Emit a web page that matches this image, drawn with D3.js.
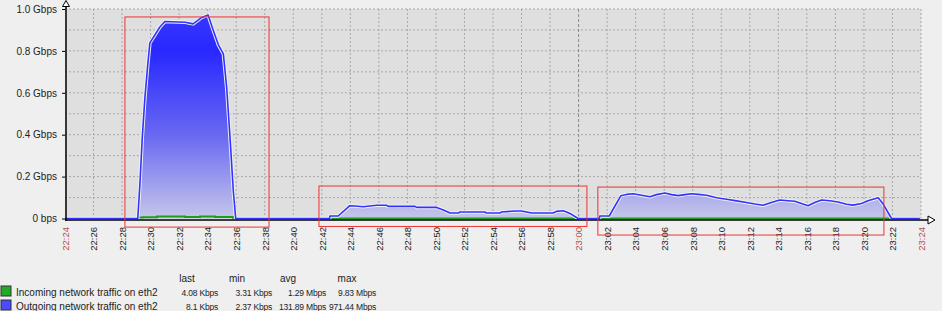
<!DOCTYPE html>
<html>
<head>
<meta charset="utf-8">
<script src="https://cdn.jsdelivr.net/npm/d3@7"></script>
<style>
    html, body { margin: 0; padding: 0; background: #efefef; }
    svg { display: block; font-family: "Liberation Sans", Arial, sans-serif; }
</style>
</head>
<body>
<div id="chart"></div>
<script>
// time window of the graph
const timeStart = "22:24:00", timeEnd = "23:24:00";

// outgoing traffic, Gbps
const outgoing = [
    ["22:24:00", 0.00001], ["22:29:06", 0.00001], ["22:29:15", 0.162], ["22:29:25", 0.386],
    ["22:29:36", 0.576], ["22:29:48", 0.733], ["22:29:57", 0.838], ["22:30:18", 0.876],
    ["22:30:39", 0.914], ["22:31:00", 0.94], ["22:32:25", 0.937], ["22:32:59", 0.929],
    ["22:33:35", 0.96], ["22:34:02", 0.971], ["22:34:23", 0.9], ["22:34:45", 0.829],
    ["22:35:06", 0.786], ["22:35:20", 0.624], ["22:35:34", 0.386], ["22:35:48", 0.129],
    ["22:35:58", 0.00001],
    ["22:42:33", 0.00001], ["22:42:34", 0.012], ["22:43:09", 0.012], ["22:43:58", 0.061],
    ["22:44:19", 0.06], ["22:44:54", 0.056], ["22:45:22", 0.06], ["22:45:51", 0.063],
    ["22:46:33", 0.063], ["22:46:39", 0.058], ["22:48:32", 0.058], ["22:48:39", 0.053],
    ["22:50:03", 0.053], ["22:50:31", 0.041], ["22:50:59", 0.026], ["22:51:34", 0.026],
    ["22:51:41", 0.031], ["22:53:26", 0.031], ["22:53:33", 0.026], ["22:54:29", 0.026],
    ["22:54:36", 0.031], ["22:55:32", 0.036], ["22:56:00", 0.036], ["22:56:42", 0.026],
    ["22:58:13", 0.026], ["22:58:27", 0.034], ["22:58:55", 0.037], ["22:59:09", 0.031],
    ["22:59:30", 0.02], ["22:59:58", 0.00001],
    ["23:01:28", 0.00001], ["23:01:29", 0.012], ["23:02:09", 0.012], ["23:02:58", 0.109],
    ["23:03:22", 0.115], ["23:03:50", 0.118], ["23:04:18", 0.112], ["23:05:00", 0.104],
    ["23:05:28", 0.114], ["23:06:03", 0.122], ["23:06:31", 0.114], ["23:06:59", 0.109],
    ["23:07:27", 0.114], ["23:07:55", 0.118], ["23:08:23", 0.115], ["23:08:58", 0.111],
    ["23:09:40", 0.099], ["23:10:22", 0.092], ["23:11:04", 0.084], ["23:11:46", 0.076],
    ["23:12:21", 0.069], ["23:12:56", 0.063], ["23:13:31", 0.076], ["23:14:06", 0.088],
    ["23:14:41", 0.085], ["23:15:09", 0.082], ["23:15:37", 0.072], ["23:16:05", 0.061],
    ["23:16:33", 0.076], ["23:17:02", 0.088], ["23:17:36", 0.085], ["23:18:11", 0.079],
    ["23:18:47", 0.068], ["23:19:14", 0.064], ["23:19:50", 0.072], ["23:20:17", 0.085],
    ["23:21:00", 0.099], ["23:21:21", 0.069], ["23:21:56", 0.00001], ["23:23:55", 0.00001]
];

// incoming traffic, Gbps
const incoming = [
    ["22:24:00", 0.000004], ["22:29:07", 0.005], ["22:29:28", 0.006], ["22:30:27", 0.0095],
    ["22:32:25", 0.0075], ["22:33:28", 0.0098], ["22:34:31", 0.007], ["22:35:46", 0.003],
    ["22:35:59", 0.000004], ["23:23:55", 0.000004]
];

const yTicks = [0, 0.2, 0.4, 0.6, 0.8, 1.0];
const yTickLabels = ["0 bps", "0.2 Gbps", "0.4 Gbps", "0.6 Gbps", "0.8 Gbps", "1.0 Gbps"];
const redTicks = ["22:24", "23:00", "23:24"];

// highlighted periods (red boxes)
const boxStart = ["22:28:12", "22:41:48", "23:01:21"];
const boxEnd = ["22:38:18", "23:00:35", "23:21:24"];
const boxTop = [0.962, 0.155, 0.150];
const boxBottom = [-0.041, -0.038, -0.079];

// legend
const legendNames = ["Incoming network traffic on eth2", "Outgoing network traffic on eth2"];
const statHeaders = ["last", "min", "avg", "max"];
const statLast = ["4.08 Kbps", "8.1 Kbps"];
const statMin = ["3.31 Kbps", "2.37 Kbps"];
const statAvg = ["1.29 Mbps", "131.89 Mbps"];
const statMax = ["9.83 Mbps", "971.44 Mbps"];

const parseTime = d3.timeParse("%H:%M:%S");
const fmt = d3.timeFormat("%H:%M");

let margin = { top: 9, right: 21, bottom: 92.5, left: 65 },
    width = 942 - margin.left - margin.right,
    height = 311 - margin.top - margin.bottom;

let svg = d3.select("#chart").append("svg")
    .attr("width", 942)
    .attr("height", 311);

let g = svg.append("g").attr("transform", "translate(" + margin.left + "," + margin.top + ")");

let x = d3.scaleTime().domain([parseTime(timeStart), parseTime(timeEnd)]).range([0, width]);
let y = d3.scaleLinear().domain([0, 1]).range([height, 0]);

// plot background
g.append("rect").attr("width", width).attr("height", height).attr("fill", "#dfdfdf");

// grid
g.append("g").selectAll("line").data(y.ticks(10).filter(d => d > 0))
    .join("line")
    .attr("x1", 0).attr("x2", width)
    .attr("y1", d => y(d)).attr("y2", d => y(d))
    .attr("stroke", "#a8a8a8").attr("stroke-dasharray", "2,2");

let xTicks = x.ticks(d3.timeMinute.every(2));
let isMid = d => redTicks.includes(fmt(d)) && +d > +x.domain()[0] && +d < +x.domain()[1];
g.append("g").selectAll("line").data(xTicks.filter(d => +d > +x.domain()[0]))
    .join("line")
    .attr("x1", d => x(d)).attr("x2", d => x(d))
    .attr("y1", 0).attr("y2", height)
    .attr("stroke", d => isMid(d) ? "#888" : "#a8a8a8")
    .attr("stroke-dasharray", d => isMid(d) ? "3,2" : "2,2");

// outgoing area with gradient
let defs = svg.append("defs");
let grad = defs.append("linearGradient").attr("id", "outGrad")
    .attr("gradientUnits", "userSpaceOnUse")
    .attr("x1", 0).attr("x2", 0).attr("y1", y(1)).attr("y2", y(0));
grad.append("stop").attr("offset", 0).attr("stop-color", "#3a3aff");
grad.append("stop").attr("offset", 0.2).attr("stop-color", "#2828ff");
grad.append("stop").attr("offset", 0.6).attr("stop-color", "#6868f2");
grad.append("stop").attr("offset", 1).attr("stop-color", "#c6c6ea");

let area = d3.area()
    .x(d => x(parseTime(d[0])))
    .y0(y(0))
    .y1(d => y(d[1]));

let outLine = d3.line()
    .x(d => x(parseTime(d[0])))
    .y(d => y(d[1]));

let inLine = d3.line()
    .x(d => x(parseTime(d[0])))
    .y(d => y(d[1]))
    .curve(d3.curveStepAfter);

g.append("path").datum(outgoing).attr("d", area).attr("fill", "url(#outGrad)");

g.append("path").datum(incoming).attr("d", inLine)
    .attr("fill", "none").attr("stroke", "#1a9f1a").attr("stroke-width", 2);

g.append("path").datum(outgoing).attr("d", outLine)
    .attr("fill", "none").attr("stroke", "#f2f2f2").attr("stroke-width", 3.5)
    .attr("stroke-linejoin", "round");
g.append("path").datum(outgoing).attr("d", outLine)
    .attr("fill", "none").attr("stroke", "#3333ff").attr("stroke-width", 1.6)
    .attr("stroke-linejoin", "round");

// y axis
let yAxis = g.append("g")
    .call(d3.axisLeft(y).tickValues(yTicks).tickFormat((d, i) => yTickLabels[i]).tickSize(3).tickPadding(5));
yAxis.select(".domain").remove();
yAxis.selectAll("text").attr("fill", "#222").style("font-size", "10px");

// x axis
let xAxis = g.append("g")
    .attr("transform", "translate(0," + (height + 1.5) + ")")
    .call(d3.axisBottom(x).tickValues(xTicks).tickFormat(fmt).tickSize(0));
xAxis.select(".domain").remove();
xAxis.selectAll("text")
    .attr("x", -7).attr("y", 0).attr("dy", "0.35em")
    .attr("transform", "rotate(-90)")
    .style("text-anchor", "end")
    .style("font-size", "9.5px")
    .attr("fill", d => redTicks.includes(fmt(d)) ? "#b05050" : "#222");

// axis lines with arrows
g.append("line").attr("x1", 1).attr("x2", 1).attr("y1", -margin.top + 4).attr("y2", height + 2.5)
    .attr("stroke", "#000").attr("stroke-width", 1.5);
g.append("line").attr("x1", 0).attr("x2", width + 8).attr("y1", height + 1.5).attr("y2", height + 1.5)
    .attr("stroke", "#000").attr("stroke-width", 1.5);
g.append("path")
    .attr("d", d3.line()([[1, -margin.top + 0.5], [-2.5, -margin.top + 6.5], [4.5, -margin.top + 6.5]]) + "Z")
    .attr("fill", "#fff").attr("stroke", "#000");
g.append("path")
    .attr("d", d3.line()([[width + 14, height + 1.5], [width + 7, height - 2.5], [width + 7, height + 5.5]]) + "Z")
    .attr("fill", "#fff").attr("stroke", "#000");

// highlight boxes
g.append("g").selectAll("rect").data(boxStart)
    .join("rect")
    .attr("x", (d, i) => x(parseTime(boxStart[i])))
    .attr("y", (d, i) => y(boxTop[i]))
    .attr("width", (d, i) => x(parseTime(boxEnd[i])) - x(parseTime(boxStart[i])))
    .attr("height", (d, i) => y(boxBottom[i]) - y(boxTop[i]))
    .attr("fill", "none").attr("stroke", "#ee3333").attr("stroke-width", 1);

// legend
let legend = svg.append("g").style("font-size", "10px").attr("fill", "#222");
let legendColors = ["#22aa22", "#4b4bff"];
let statCols = [statLast, statMin, statAvg, statMax];
let headerX = [187, 237, 288, 347];
let colRight = [218, 272, 326, 376];

legend.selectAll(".hdr").data(statHeaders).join("text")
    .attr("class", "hdr")
    .attr("x", (d, i) => headerX[i]).attr("y", 281.5)
    .attr("text-anchor", "middle").text(d => d);

legendNames.forEach((name, r) => {
    let row = legend.append("g").attr("transform", "translate(0," + (292 + r * 14) + ")");
    row.append("rect").attr("x", 1).attr("y", -6).attr("width", 10).attr("height", 10)
        .attr("fill", legendColors[r]).attr("stroke", "#333");
    row.append("text").attr("x", 16).attr("y", 3.5).text(name);
    statCols.forEach((col, c) => {
        row.append("text").attr("x", colRight[c]).attr("y", 3.5)
            .attr("text-anchor", "end")
            .style("font-size", "8.5px").style("letter-spacing", "-0.2px")
            .text(col[r]);
    });
});
</script>
</body>
</html>
